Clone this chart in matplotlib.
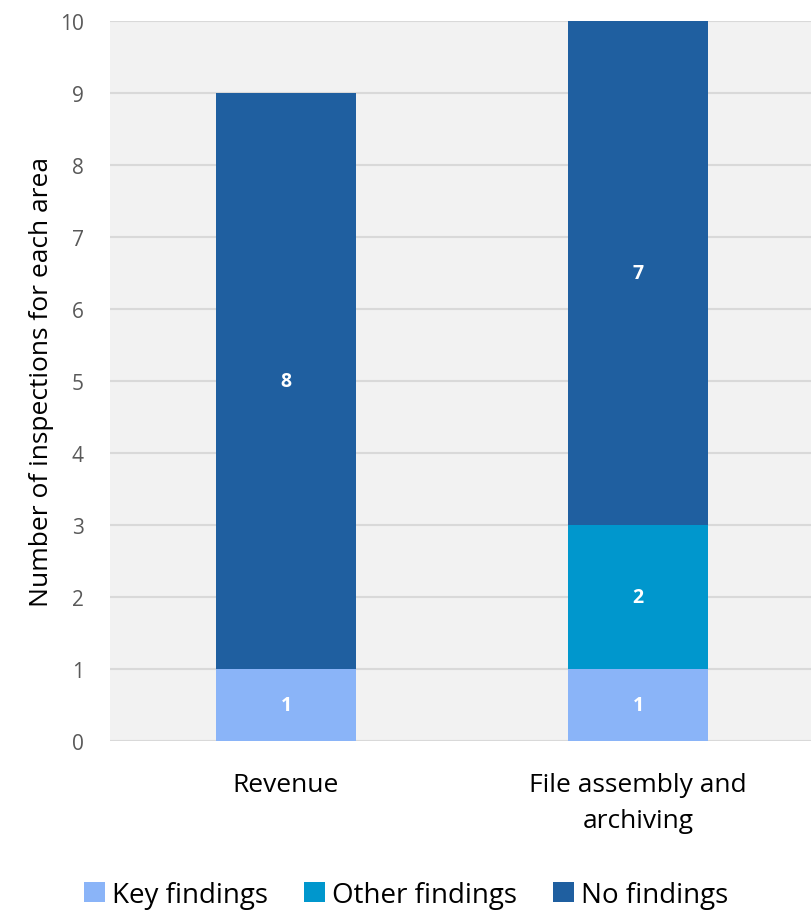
import matplotlib.pyplot as plt
import numpy as np

categories = ["Revenue", "File assembly and\narchiving"]
series = ["Key findings", "Other findings", "No findings"]
key_findings = [1, 1]
other_findings = [0, 2]
no_findings = [8, 7]
colors = ["#8ab4f8", "#0097cd", "#1f5fa0"]

plt.rcParams['font.family'] = ['Open Sans', 'DejaVu Sans']

fig = plt.figure(figsize=(8.12, 9.2), dpi=100)
ax = fig.add_axes([110 / 812, 178 / 920, 704 / 812, 720 / 920])
ax.set_facecolor("#f2f2f2")

x = np.arange(len(categories))
bottom = np.zeros(len(categories))
handles = []
for name, vals, col in zip(series, [key_findings, other_findings, no_findings], colors):
    vals = np.array(vals, dtype=float)
    bars = ax.bar(x, vals, width=0.4, bottom=bottom, color=col, label=name, zorder=3)
    for xi, v, b in zip(x, vals, bottom):
        if v > 0:
            ax.text(xi, b + v / 2, f"{int(v)}", ha="center", va="center",
                    color="white", fontsize=14, fontweight="bold", zorder=4)
    bottom += vals
    handles.append(bars)

ax.set_xlim(-0.5, 1.5)
ax.set_ylim(0, 10)
ax.set_yticks(range(0, 11))
ax.yaxis.grid(True, color="#d9d9d9", linewidth=1.5, zorder=0)
ax.set_axisbelow(True)
for s in ax.spines.values():
    s.set_visible(False)
ax.tick_params(axis="both", length=0)
ax.tick_params(axis="y", labelsize=15, labelcolor="#595959", pad=19)
ax.set_xticks(x)
ax.set_xticklabels(categories, fontsize=19, color="#000000", linespacing=1.6)
ax.tick_params(axis="x", pad=22)
ax.set_ylabel("Number of inspections for each area", fontsize=19, color="#000000", labelpad=4)

fig.legend(handles=handles, labels=series, loc="lower center", bbox_to_anchor=(0.5, -0.016),
           ncol=3, frameon=False, fontsize=20, handlelength=0.75, handleheight=0.75,
           handletextpad=0.25, columnspacing=1.3)

fig.savefig("out.png", dpi=100)
